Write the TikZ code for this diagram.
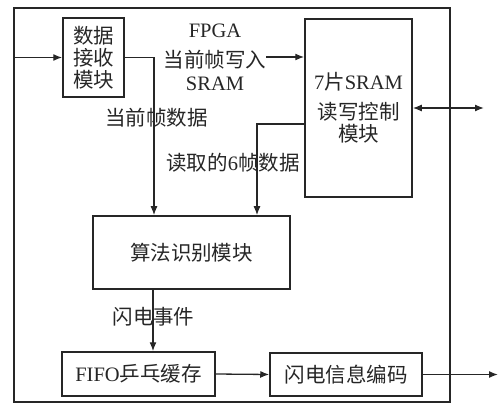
\documentclass[tikz,border=0pt]{standalone}
\usepackage{fontspec}
\setmainfont{Liberation Serif}
\newfontfamily\cjk{Noto Sans CJK SC}
\newfontfamily\lat{Liberation Serif}
\usetikzlibrary{arrows.meta}
\begin{document}
\begin{tikzpicture}[x=1pt,y=-1pt,
  every node/.style={text=black!85},
  box/.style={draw=black!85,line width=1.5pt,inner sep=0pt,align=center},
  conn/.style={draw=black!85,line width=1.3pt},
  arr/.style={conn,-{Latex[length=9pt,width=7pt]}},
  lbl/.style={inner sep=0pt,align=center},
  font=\cjk\fontsize{20.5}{22}\selectfont]
\useasboundingbox (0,0) rectangle (499,404);
\node[box,minimum width=436pt,minimum height=394pt] (frame) at (232,205) {};
\node[box,minimum width=61pt,minimum height=79pt] (recv) at (93.5,57.5) {数据\\接收\\模块};
\node[box,minimum width=107pt,minimum height=178pt] (sram) at (358.5,108) {{\lat 7}片{\lat SRAM}\\[8pt]读写控制\\模块};
\node[box,minimum width=197pt,minimum height=73pt] (algo) at (191.5,252.5) {算法识别模块};
\node[box,minimum width=153pt,minimum height=44pt] (fifo) at (138.5,374) {{\lat FIFO}乒乓缓存};
\node[box,minimum width=152pt,minimum height=43pt] (enc) at (346,374.5) {闪电信息编码};
\node[lbl] (wl) at (215,57) {{\lat FPGA}\\[8pt]当前帧写入\\[1pt]{\lat SRAM}};
\node[lbl] (l1) at (156.5,118) {当前帧数据};
\node[lbl] (l2) at (233,163) {读取的{\lat 6}帧数据};
\node[lbl] (l3) at (153.5,317) {闪电事件};
\coordinate (j1) at (154,0);
\coordinate (j2) at (257,0);
\coordinate (j3) at (153,0);
\coordinate (out) at (498,374.5);
\coordinate (ext) at (484,108);
\draw[arr] (frame.west |- recv.west) -- (recv.west);
\draw[arr] (recv.east) -| (j1 |- algo.north);
\draw[arr] (wl.east) -- (sram.west |- wl.east);
\draw[arr] ([yshift=-16pt]sram.west) -| (j2 |- algo.north);
\draw[conn,{Latex[length=9pt,width=7pt]}-{Latex[length=9pt,width=7pt]}] (sram.east) -- (ext);
\draw[arr] (j3 |- algo.south) -- (j3 |- fifo.north);
\draw[arr] (fifo.east) -- (enc.west);
\draw[arr] (enc.east) -- (out);
\end{tikzpicture}
\end{document}
